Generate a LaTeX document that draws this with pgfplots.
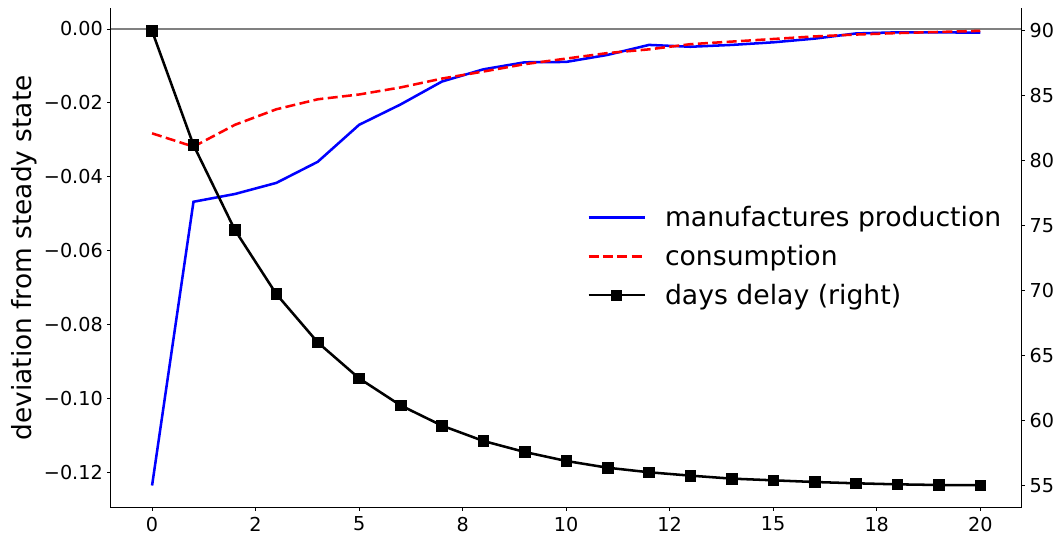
\documentclass[border=0pt]{standalone}
\usepackage{fontspec}
\setmainfont{DejaVu Sans}
\usepackage{pgfplots}
\usepackage{pgfplotstable}
\pgfplotsset{compat=1.18}

\pgfplotstableread{
x prod cons
0 -0.1234 -0.0282
1 -0.0467 -0.0318
2 -0.0446 -0.0259
3 -0.0416 -0.0217
4 -0.0359 -0.0190
5 -0.0259 -0.0177
6 -0.0204 -0.0158
7 -0.0142 -0.0134
8 -0.0109 -0.0115
9 -0.0090 -0.0095
10 -0.0089 -0.0080
11 -0.0070 -0.0065
12 -0.0043 -0.0055
13 -0.0048 -0.0041
14 -0.0043 -0.0034
15 -0.0036 -0.0027
16 -0.0026 -0.0020
17 -0.0012 -0.0015
18 -0.0009 -0.0011
19 -0.0009 -0.0008
20 -0.0010 -0.0005
}\flows

\pgfplotstableread{
x days
0 90.00
1 81.22
2 74.68
3 69.75
4 66.03
5 63.26
6 61.18
7 59.62
8 58.44
9 57.59
10 56.90
11 56.38
12 56.03
13 55.77
14 55.54
15 55.41
16 55.28
17 55.18
18 55.10
19 55.05
20 55.03
}\delay

\begin{document}
\begin{tikzpicture}[x=1pt,y=1pt]
\useasboundingbox (-83.0,-19.7) rectangle (710.5,380.8);
\pgfplotsset{
  every axis/.append style={
    at={(0,0)}, anchor=south west,
    scale only axis, width=683.25pt, height=374.8pt,
    xmin=-1, xmax=21,
    tick align=outside, major tick length=2.4pt,
    tick style={line width=0.75pt, black},
    axis line style={line width=0.75pt, black},
    tick label style={font=\fontsize{14.4}{17}\selectfont},
    /pgf/number format/assume math mode=true,
  },
}
\begin{axis}[
  ymin=-0.1294, ymax=0.00568,
  axis x line*=bottom, axis y line*=left,
  xtick={0,2.5,5,7.5,10,12.5,15,17.5,20},
  xticklabels={0,2,5,8,10,12,15,18,20},
  xticklabel style={inner sep=1pt, yshift=-3.3pt},
  ytick={-0.12,-0.10,-0.08,-0.06,-0.04,-0.02,0},
  yticklabels={−0.12,−0.10,−0.08,−0.06,−0.04,−0.02,0.00},
  ylabel={deviation from steady state},
  ylabel style={font=\fontsize{19.8}{23}\selectfont, yshift=-2pt},
  legend style={draw=none, fill=none, at={(0.5185,0.614)}, anchor=north west,
    font=\fontsize{20}{20}\selectfont, row sep=8.4pt,
    /tikz/every odd column/.append style={column sep=12.4pt}},
  legend cell align=left,
  legend image code/.code={\draw[mark repeat=2,mark phase=2,#1] plot coordinates {(0pt,0pt) (21pt,0pt) (42pt,0pt)};},
]
\addplot[gray, line width=1pt, forget plot] coordinates {(-1,0) (21,0)};
\addplot[blue, line width=1.9pt] table[x=x,y=prod] {\flows};
\addlegendentry{\strut manufactures production}
\addplot[red, line width=1.9pt, dash pattern=on 7.5pt off 3.3pt] table[x=x,y=cons] {\flows};
\addlegendentry{\strut consumption}
\addlegendimage{black, line width=1.9pt, mark=square*, mark size=3.7pt, mark options={solid, line width=0.5pt}}
\addlegendentry{\strut days delay (right)}
\end{axis}
\begin{axis}[
  ymin=53.30, ymax=91.77,
  axis x line=none, axis y line*=right,
  ytick={55,60,65,70,75,80,85,90},
]
\addplot[black, line width=1.9pt, mark=square*, mark size=4pt, mark options={solid, line width=0.5pt}] table[x=x,y=days] {\delay};
\end{axis}
\end{tikzpicture}
\end{document}
